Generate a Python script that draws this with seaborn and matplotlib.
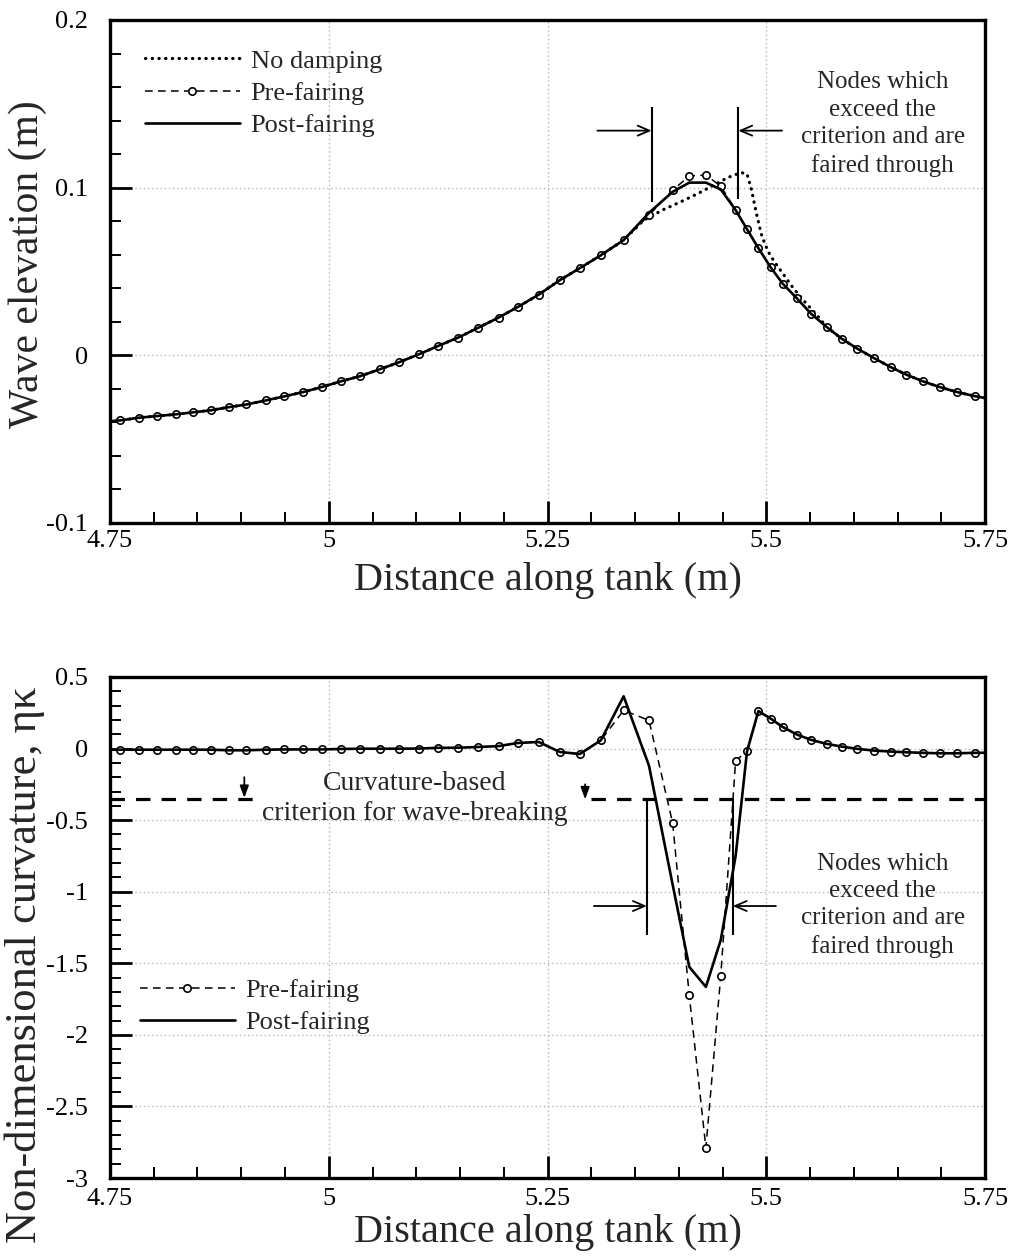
import matplotlib
matplotlib.use("Agg")
import matplotlib.pyplot as plt
import seaborn as sns
import pandas as pd
from matplotlib.lines import Line2D
from matplotlib.ticker import MultipleLocator, FuncFormatter

sns.set_theme(style="white")
plt.rcParams["font.family"] = ["Liberation Serif", "DejaVu Serif"]
plt.rcParams["axes.unicode_minus"] = False

# ---------------- data ----------------
node_x = [4.742, 4.762, 4.783, 4.804, 4.825, 4.845, 4.865, 4.886, 4.906, 4.928,
          4.949, 4.971, 4.992, 5.014, 5.036, 5.058, 5.080, 5.103, 5.125, 5.148,
          5.171, 5.194, 5.216, 5.240, 5.264, 5.287, 5.311, 5.337, 5.366, 5.393,
          5.412, 5.431, 5.448, 5.465, 5.478, 5.491, 5.505, 5.519, 5.535, 5.551,
          5.569, 5.586, 5.604, 5.623, 5.642, 5.660, 5.679, 5.698, 5.718, 5.738,
          5.758]

elevation_post = [-0.0396, -0.0388, -0.0372, -0.0362, -0.0352, -0.0340, -0.0328, -0.0309, -0.0293, -0.0269,
                  -0.0245, -0.0219, -0.0189, -0.0155, -0.0124, -0.0084, -0.0042, 0.0006, 0.0056, 0.0106,
                  0.0165, 0.0225, 0.0288, 0.0362, 0.0448, 0.0520, 0.0597, 0.0687, 0.0850, 0.0975,
                  0.1030, 0.1030, 0.0990, 0.0866, 0.0752, 0.0639, 0.0525, 0.0426, 0.0340, 0.0249,
                  0.0169, 0.0100, 0.0040, -0.0016, -0.0070, -0.0115, -0.0155, -0.0189, -0.0219, -0.0243,
                  -0.0262]

elevation_pre = [-0.0396, -0.0388, -0.0372, -0.0362, -0.0352, -0.0340, -0.0328, -0.0309, -0.0293, -0.0269,
                 -0.0245, -0.0219, -0.0189, -0.0155, -0.0124, -0.0084, -0.0042, 0.0006, 0.0056, 0.0106,
                 0.0165, 0.0225, 0.0288, 0.0362, 0.0448, 0.0520, 0.0597, 0.0687, 0.0836, 0.0985,
                 0.1069, 0.1075, 0.1009, 0.0866, 0.0752, 0.0639, 0.0525, 0.0426, 0.0340, 0.0249,
                 0.0169, 0.0100, 0.0040, -0.0016, -0.0070, -0.0115, -0.0155, -0.0189, -0.0219, -0.0243,
                 -0.0262]

nodamp_x = [4.742, 4.762, 4.783, 4.804, 4.825, 4.845, 4.865, 4.886, 4.906, 4.928,
            4.949, 4.971, 4.992, 5.014, 5.036, 5.058, 5.080, 5.103, 5.125, 5.148,
            5.171, 5.194, 5.216, 5.240, 5.264, 5.287, 5.311, 5.337, 5.360, 5.382,
            5.402, 5.422, 5.440, 5.456, 5.471, 5.478, 5.483, 5.489, 5.495, 5.502,
            5.509, 5.520, 5.531, 5.543, 5.557, 5.569, 5.586, 5.604, 5.623, 5.642,
            5.660, 5.679, 5.698, 5.718, 5.738, 5.758]

nodamp_y = [-0.0396, -0.0388, -0.0372, -0.0362, -0.0352, -0.0340, -0.0328, -0.0309, -0.0293, -0.0269,
            -0.0245, -0.0219, -0.0189, -0.0155, -0.0124, -0.0084, -0.0042, 0.0006, 0.0056, 0.0106,
            0.0165, 0.0225, 0.0288, 0.0362, 0.0448, 0.0520, 0.0597, 0.0687, 0.0806, 0.0868,
            0.0915, 0.0965, 0.1015, 0.1060, 0.1090, 0.1082, 0.0990, 0.0840, 0.0710, 0.0620,
            0.0560, 0.0480, 0.0400, 0.0325, 0.0245, 0.0169, 0.0100, 0.0040, -0.0016, -0.0070,
            -0.0115, -0.0155, -0.0189, -0.0219, -0.0243, -0.0262]

curvature_pre = [-0.008, -0.008, -0.008, -0.008, -0.008, -0.008, -0.008, -0.012, -0.012, -0.008,
                 -0.006, -0.006, -0.006, -0.003, -0.001, -0.001, -0.001, 0.000, 0.005, 0.006,
                 0.011, 0.017, 0.039, 0.046, -0.024, -0.038, 0.058, 0.267, 0.197, -0.520,
                 -1.724, -2.790, -1.588, -0.084, -0.020, 0.262, 0.209, 0.150, 0.098, 0.061,
                 0.033, 0.014, -0.002, -0.014, -0.021, -0.026, -0.030, -0.033, -0.033, -0.030,
                 -0.029]

curvature_post = [-0.008, -0.008, -0.008, -0.008, -0.008, -0.008, -0.008, -0.012, -0.012, -0.008,
                  -0.006, -0.006, -0.006, -0.003, -0.001, -0.001, -0.001, 0.000, 0.005, 0.006,
                  0.011, 0.017, 0.039, 0.046, -0.024, -0.038, 0.058, 0.365, -0.120, -0.950,
                  -1.525, -1.665, -1.337, -0.750, -0.020, 0.262, 0.209, 0.150, 0.098, 0.061,
                  0.033, 0.014, -0.002, -0.014, -0.021, -0.026, -0.030, -0.033, -0.033, -0.030,
                  -0.029]

criterion = -0.35
legend_top = ["No damping", "Pre-fairing", "Post-fairing"]
legend_bottom = ["Pre-fairing", "Post-fairing"]
x_label = "Distance along tank (m)"
y_label_top = "Wave elevation (m)"
y_label_bottom = "Non-dimensional curvature, ηκ"
note_nodes = "Nodes which\nexceed the\ncriterion and are\nfaired through"
note_criterion = "Curvature-based\ncriterion for wave-breaking"

# ---------------- figure ----------------
fig = plt.figure(figsize=(10.11, 12.56), dpi=100)
ax1 = fig.add_axes([0.1088, 0.5836, 0.8655, 0.4005])
ax2 = fig.add_axes([0.1088, 0.0621, 0.8655, 0.3989])

top_df = pd.DataFrame({"x": node_x, "pre": elevation_pre, "post": elevation_post})
nd_df = pd.DataFrame({"x": nodamp_x, "y": nodamp_y})
bot_df = pd.DataFrame({"x": node_x, "pre": curvature_pre, "post": curvature_post})

DOT = (0, (0.1, 2.0))
DASH = (0, (5, 3.5))
pre_kw = dict(color="black", linewidth=1.1, linestyle=DASH, marker="o", markersize=5.3,
              markerfacecolor="white", markeredgecolor="black", markeredgewidth=1.2)
post_kw = dict(color="black", linewidth=1.9)

sns.lineplot(data=nd_df, x="x", y="y", ax=ax1, estimator=None, errorbar=None,
             color="black", linewidth=2.3, linestyle=DOT, dash_capstyle="round", zorder=2)
sns.lineplot(data=top_df, x="x", y="pre", ax=ax1, estimator=None, errorbar=None, zorder=3, **pre_kw)
sns.lineplot(data=top_df, x="x", y="post", ax=ax1, estimator=None, errorbar=None, zorder=4, **post_kw)

sns.lineplot(data=bot_df, x="x", y="pre", ax=ax2, estimator=None, errorbar=None, zorder=3, **pre_kw)
sns.lineplot(data=bot_df, x="x", y="post", ax=ax2, estimator=None, errorbar=None, zorder=4, **post_kw)


def fmt(v, p):
    return "0" if abs(v) < 1e-9 else f"{v:g}"


def style_axis(ax, ylim, ymajor, yminor, xpad):
    ax.set_xlim(4.75, 5.75)
    ax.set_ylim(*ylim)
    ax.xaxis.set_major_locator(MultipleLocator(0.25))
    ax.xaxis.set_minor_locator(MultipleLocator(0.05))
    ax.yaxis.set_major_locator(MultipleLocator(ymajor))
    ax.yaxis.set_minor_locator(MultipleLocator(yminor))
    ax.xaxis.set_major_formatter(FuncFormatter(fmt))
    ax.yaxis.set_major_formatter(FuncFormatter(fmt))
    ax.tick_params(which="major", direction="in", length=16, width=2.0, labelsize=19,
                   bottom=True, left=True, top=False, right=False, colors="black")
    ax.tick_params(which="minor", direction="in", length=8, width=1.4,
                   bottom=True, left=True, top=False, right=False, colors="black")
    ax.tick_params(axis="y", which="major", pad=16)
    ax.tick_params(axis="x", which="major", pad=xpad)
    for s in ax.spines.values():
        s.set_linewidth(2.4)
        s.set_color("black")
        s.set_visible(True)
    ax.grid(True, which="major", color="#b5b5b5", linestyle=(0, (1, 2)), linewidth=1.0)
    ax.set_axisbelow(True)
    ax.set_xlabel(x_label, fontsize=29)


style_axis(ax1, (-0.1, 0.2), 0.1, 0.02, 5)
style_axis(ax2, (-3, 0.5), 0.5, 0.1, 7)
ax1.set_ylabel(y_label_top, fontsize=30)
ax2.set_ylabel(y_label_bottom, fontsize=32)
ax1.xaxis.set_label_coords(0.5, -0.077)
ax2.xaxis.set_label_coords(0.5, -0.072)
ax1.yaxis.set_label_coords(-0.072, 0.515)
ax2.yaxis.set_label_coords(-0.074, 0.425)

# legends
h_nd = Line2D([], [], color="black", linewidth=2.3, linestyle=DOT, dash_capstyle="round")
h_pre = Line2D([], [], **pre_kw)
h_post = Line2D([], [], **post_kw)
leg_kw = dict(loc="upper left", frameon=False, fontsize=19, handlelength=3.6,
              handletextpad=0.4, labelspacing=0.33, borderpad=0, borderaxespad=0)
ax1.legend([h_nd, h_pre, h_post], legend_top, bbox_to_anchor=(0.04, 0.942), **leg_kw)
ax2.legend([h_pre, h_post], legend_bottom, bbox_to_anchor=(0.034, 0.398), **leg_kw)

# annotations, top panel
line_kw = dict(color="black", linewidth=1.5, solid_capstyle="butt")
arr_kw = dict(arrowstyle="->,head_length=0.7,head_width=0.3", color="black", lw=1.3,
              shrinkA=0, shrinkB=0)
ax1.plot([5.369, 5.369], [0.0915, 0.148], **line_kw)
ax1.plot([5.468, 5.468], [0.0935, 0.148], **line_kw)
ax1.annotate("", xy=(5.369, 0.134), xytext=(5.307, 0.134), arrowprops=arr_kw)
ax1.annotate("", xy=(5.468, 0.134), xytext=(5.518, 0.134), arrowprops=arr_kw)
ax1.text(5.633, 0.1380, note_nodes, ha="center", va="center", fontsize=18,
         linespacing=1.32, multialignment="center")

# annotations, bottom panel
crit_kw = dict(color="black", linewidth=2.3, linestyle=(0, (4.5, 3.5)))
ax2.plot([4.75, 4.918], [criterion, criterion], **crit_kw)
ax2.plot([5.300, 5.75], [criterion, criterion], **crit_kw)
down_kw = dict(arrowstyle="-|>,head_length=0.6,head_width=0.22", color="black", lw=1.3,
               shrinkA=0, shrinkB=0)
ax2.annotate("", xy=(4.9035, criterion + 0.005), xytext=(4.9035, -0.20), arrowprops=down_kw)
ax2.annotate("", xy=(5.293, criterion - 0.005), xytext=(5.293, -0.25), arrowprops=down_kw)
ax2.text(5.098, -0.350, note_criterion, ha="center", va="center", fontsize=20,
         linespacing=1.25, multialignment="center")
ax2.plot([5.3636, 5.3636], [criterion, -1.30], **line_kw)
ax2.plot([5.4617, 5.4617], [criterion, -1.30], **line_kw)
ax2.annotate("", xy=(5.3636, -1.10), xytext=(5.303, -1.10), arrowprops=arr_kw)
ax2.annotate("", xy=(5.4617, -1.10), xytext=(5.511, -1.10), arrowprops=arr_kw)
ax2.text(5.633, -1.095, note_nodes, ha="center", va="center", fontsize=18,
         linespacing=1.3, multialignment="center")

fig.savefig("out.png", dpi=100, facecolor="white")
